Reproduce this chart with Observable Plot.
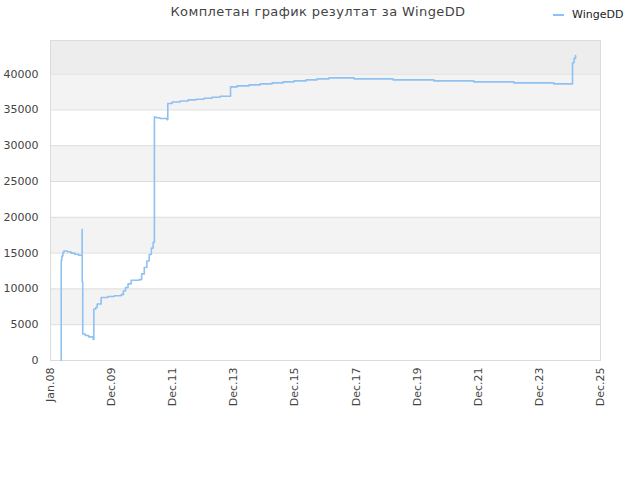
<!DOCTYPE html>
<html>
<head>
<meta charset="utf-8">
<script src="https://cdn.jsdelivr.net/npm/d3@7"></script>
<script src="https://cdn.jsdelivr.net/npm/@observablehq/plot@0.6"></script>
<style>
  body { margin: 0; background: #fff; }
  #wrap { position: relative; width: 640px; height: 480px; font-family: "DejaVu Sans", sans-serif; }
  #title { position: absolute; top: 4px; left: 0; width: 636px; text-align: center; font-size: 13px; color: #444; letter-spacing: 0.4px; }
  #legend { position: absolute; top: 8px; left: 553px; font-size: 11px; color: #222; display: flex; align-items: center; }
  #legend span.sw { display: inline-block; width: 11px; height: 2px; background: #8fc1f2; margin-right: 8px; }
  #chart { position: absolute; top: 0; left: 0; }
</style>
</head>
<body>
<div id="wrap">
  <div id="chart"></div>
  <div id="title">Комплетан график резултат за WingeDD</div>
  <div id="legend"><span class="sw"></span>WingeDD</div>
</div>
<script>
const seriesName = "WingeDD";
const dates = [
  "2008-05-08","2008-05-08","2008-05-16","2008-05-28","2008-06-10","2008-07-20","2008-09-01","2008-10-15",
  "2008-12-01","2009-01-13","2009-01-14","2009-01-20","2009-02-20","2009-04-01","2009-05-25","2009-06-02",
  "2009-06-25","2009-07-11","2009-08-28","2009-11-15","2010-02-01","2010-04-24","2010-05-20","2010-06-15",
  "2010-07-15","2010-08-21","2010-11-25","2010-12-25","2011-01-25","2011-02-25","2011-03-25","2011-04-20",
  "2011-05-11","2011-05-26","2011-06-15","2011-08-01","2011-10-22","2011-11-02","2011-12-24","2012-03-29",
  "2012-07-02","2012-10-05","2013-01-09","2013-04-14","2013-07-19","2013-11-21","2014-02-07","2014-06-30",
  "2014-11-09","2015-04-01","2015-08-10","2015-12-19","2016-05-11","2016-09-19","2017-02-09","2017-12-05",
  "2019-03-15","2020-07-16","2021-11-06","2023-02-26","2024-06-18","2025-01-27","2025-02-15","2025-03-04"
];
const values = [
  0,14000,14600,15100,15300,15200,15000,14850,
  14700,18300,11000,3700,3500,3300,2950,7200,
  7400,7900,8800,8950,9050,9200,9700,10200,
  10700,11200,11300,12100,13000,13900,14800,15700,
  16500,34000,33900,33800,33650,35900,36100,36250,
  36400,36500,36640,36780,36920,38220,38360,38500,
  38640,38780,38920,39060,39200,39340,39480,39340,
  39200,39060,38920,38780,38640,41600,42200,42600
];
const yTicks = [0,5000,10000,15000,20000,25000,30000,35000,40000];
const xTicks = ["2008-01-01","2009-12-31","2011-12-31","2013-12-30","2015-12-30","2017-12-29","2019-12-29","2021-12-28","2023-12-28","2025-12-27"];
const bandLow = [5000,15000,25000,35000];
const bandHigh = [10000,20000,30000,40000];
const yTop = 44700;

const parse = d3.utcParse("%Y-%m-%d");
const data = dates.map((d, i) => ({date: parse(d), value: values[i]}));
const bands = bandLow.map((lo, i) => ({lo, hi: bandHigh[i]}));
const xDomain = [parse(xTicks[0]), parse(xTicks[xTicks.length - 1])];

const chart = Plot.plot({
  width: 640,
  height: 480,
  marginLeft: 50,
  marginRight: 40,
  marginTop: 40,
  marginBottom: 120,
  style: {fontFamily: "DejaVu Sans, sans-serif", fontSize: "11px", color: "#444", background: "transparent"},
  x: {type: "utc", domain: xDomain, ticks: xTicks.map(parse), tickFormat: d3.utcFormat("%b.%y"), tickRotate: -90, tickSize: 0, tickPadding: 7, label: null},
  y: {domain: [0, yTop], ticks: yTicks, tickFormat: d => String(d), tickSize: 0, tickPadding: 12, label: null},
  marks: [
    Plot.rectY([{lo: 40000, hi: yTop}], {x1: xDomain[0], x2: xDomain[1], y1: "lo", y2: "hi", fill: "#ededed"}),
    Plot.rectY(bands, {x1: xDomain[0], x2: xDomain[1], y1: "lo", y2: "hi", fill: "#f3f3f3"}),
    Plot.ruleY(yTicks.slice(1), {stroke: "#dedede"}),
    Plot.frame({stroke: "#dcdcdc"}),
    Plot.line(data, {x: "date", y: "value", curve: "step-after", stroke: "#8fc1f2", strokeWidth: 1.6})
  ]
});
document.getElementById("chart").appendChild(chart);
</script>
</body>
</html>
